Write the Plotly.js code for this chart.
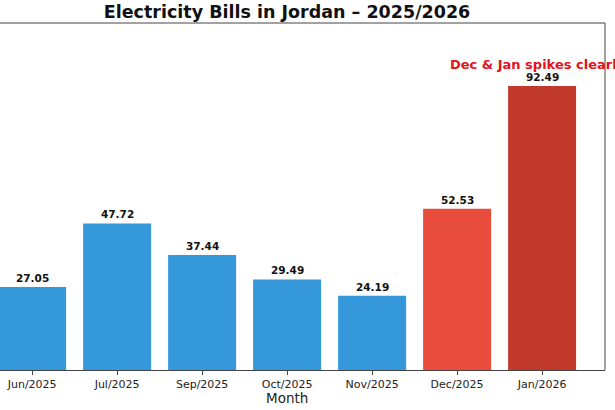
<!DOCTYPE html>
<html>
<head>
<meta charset="utf-8">
<script src="https://cdn.plot.ly/plotly-3.0.1.min.js"></script>
<style>html,body{margin:0;padding:0;background:#fff;}#chart{width:615px;height:410px;}</style>
</head>
<body>
<div id="chart"></div>
<script>
const months = ["Jun/2025", "Jul/2025", "Sep/2025", "Oct/2025", "Nov/2025", "Dec/2025", "Jan/2026"];
const bills = [27.05, 47.72, 37.44, 29.49, 24.19, 52.53, 92.49];
const barColors = ["#3498db", "#3498db", "#3498db", "#3498db", "#3498db", "#e74c3c", "#c0392b"];
const titleText = "Electricity Bills in Jordan \u2013 2025/2026";
const noteText = "Dec & Jan spikes clearly";
const xTitle = "Month";

const idx = months.map((m, i) => i);
const font = "DejaVu Sans, sans-serif";

const valueLabels = bills.map((v, i) => ({
  x: i, y: v, xref: "x", yref: "y",
  text: "<b>" + v.toFixed(2) + "</b>",
  showarrow: false, xanchor: "center", yanchor: "bottom", yshift: 1,
  font: {family: font, size: 10.5, color: "#111"}
}));

const trace = {
  type: "bar", x: idx, y: bills, width: 0.8,
  marker: {color: barColors, line: {width: 0}},
  hoverinfo: "none"
};

const layout = {
  width: 615, height: 410,
  margin: {l: 0, r: 10, t: 23, b: 40},
  paper_bgcolor: "#fff", plot_bgcolor: "#fff",
  showlegend: false,
  title: {text: "<b>" + titleText + "</b>", font: {family: font, size: 17.5, color: "#111"},
          xref: "paper", x: 0.4744, xanchor: "center", yref: "container", y: 0.97, yanchor: "middle"},
  xaxis: {
    range: [-0.378, 6.74], tickmode: "array", tickvals: idx, ticktext: months,
    showgrid: false, zeroline: false, showline: true, linecolor: "#444", linewidth: 1,
    ticks: "outside", ticklen: 3.5, tickcolor: "#444", tickwidth: 1,
    tickfont: {family: font, size: 11, color: "#222"}, fixedrange: true
  },
  yaxis: {
    range: [0, 113], showgrid: false, zeroline: false, showline: false,
    showticklabels: false, ticks: "", fixedrange: true
  },
  annotations: valueLabels.concat([
    {x: 4.893, y: 99.5, xref: "x", yref: "y", text: "<b>" + noteText + "</b>", showarrow: false,
     xanchor: "left", yanchor: "middle", font: {family: font, size: 13, color: "#e3121b"}},
    {x: 0.4744, y: -0.08, xref: "paper", yref: "paper", text: xTitle, showarrow: false,
     xanchor: "center", yanchor: "middle", font: {family: font, size: 13.5, color: "#222"}}
  ]),
  shapes: [
    {type: "line", xref: "paper", yref: "paper", x0: 0, x1: 1, y0: 1, y1: 1, line: {color: "#444", width: 1}},
    {type: "line", xref: "paper", yref: "paper", x0: 1, x1: 1, y0: 0, y1: 1, line: {color: "#444", width: 1}}
  ]
};

Plotly.newPlot("chart", [trace], layout, {displayModeBar: false, staticPlot: true});
</script>
</body>
</html>
